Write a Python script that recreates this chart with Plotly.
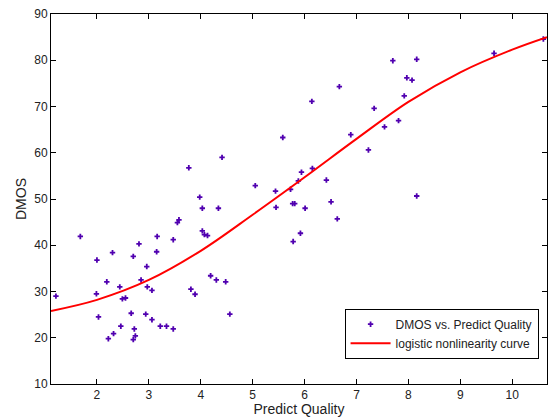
import plotly.graph_objects as go

# Scatter data: predicted quality vs DMOS
pred_quality = [1.21, 1.68, 1.99, 2.00, 2.03, 2.19, 2.30, 2.22, 2.32, 2.44, 2.46, 2.49, 2.55,
                2.66, 2.70, 2.72, 2.74, 2.70, 2.81, 2.85, 2.96, 2.97, 2.94, 3.06, 3.06, 3.15,
                3.16, 3.22, 3.34, 3.47, 3.47, 3.55, 3.58, 3.81, 3.89, 4.03, 4.03, 4.07, 4.13,
                4.19, 4.30, 4.34, 4.48, 4.56, 5.45, 3.77, 3.98, 4.41, 5.05, 5.44,
                10.60, 9.65, 8.16, 7.70, 7.97, 8.07, 7.92, 6.67, 6.14, 7.34, 7.81, 7.54, 6.89,
                7.23, 5.58, 6.15, 5.94, 5.88, 6.42, 5.73, 5.77, 5.81, 6.01, 6.51, 8.16,
                6.63, 5.92, 5.78]
dmos = [29.0, 41.9, 29.5, 36.8, 24.5, 32.1, 38.4, 19.8, 20.9, 31.0, 22.5, 28.4, 28.6,
        25.3, 37.6, 21.9, 20.4, 19.6, 40.3, 32.5, 35.4, 31.0, 25.1, 30.25, 23.9, 38.6,
        41.9, 22.5, 22.5, 41.2, 21.9, 44.9, 45.5, 30.5, 29.4, 48.0, 43.1, 42.3, 42.1,
        33.4, 32.5, 48.0, 32.1, 25.1, 48.2, 56.75, 50.4, 59.0, 52.9, 51.7,
        84.6, 81.5, 80.2, 79.9, 76.2, 75.7, 72.3, 74.3, 71.1, 69.6, 66.95, 65.6, 63.9,
        60.6, 63.3, 56.6, 55.8, 53.9, 54.1, 52.1, 49.0, 49.0, 48.0, 49.4, 50.65,
        45.7, 42.6, 40.8]

# Logistic fit curve
curve_x = [1.115, 2, 3, 4, 5, 6, 7, 8, 9, 10, 10.67]
curve_y = [25.8, 28.2, 32.5, 38.8, 46.6, 54.7, 63.0, 71.0, 77.4, 82.3, 85.0]

x_ticks = [2, 3, 4, 5, 6, 7, 8, 9, 10]
y_ticks = [10, 20, 30, 40, 50, 60, 70, 80, 90]

fig = go.Figure()
fig.add_trace(go.Scatter(
    x=pred_quality, y=dmos, mode="markers", name="DMOS vs. Predict Quality",
    marker=dict(symbol="cross", size=4.5, color="#5000B0", line=dict(width=0)),
))
fig.add_trace(go.Scatter(
    x=curve_x, y=curve_y, mode="lines", name="logistic nonlinearity curve",
    line=dict(color="#FF0000", width=2, shape="spline", smoothing=1.0),
))

axis_common = dict(
    showgrid=False, zeroline=False, showline=True, linecolor="black", linewidth=1,
    mirror="ticks", ticks="inside", ticklen=5, tickcolor="black",
    tickfont=dict(family="Liberation Sans, Arial, sans-serif", size=12, color="#222222"),
)

fig.update_layout(
    width=548, height=417,
    margin=dict(l=51, r=1, t=14, b=33),
    paper_bgcolor="white", plot_bgcolor="white",
    font=dict(family="Liberation Sans, Arial, sans-serif", size=12, color="#222222"),
    xaxis=dict(range=[1.115, 10.67], tickvals=x_ticks,
               title=dict(text="Predict Quality", standoff=4), **axis_common),
    yaxis=dict(range=[10, 90], tickvals=y_ticks,
               title=dict(text="DMOS", standoff=4), **axis_common),
    legend=dict(x=0.983, y=0.136, xanchor="right", yanchor="middle",
                bgcolor="white", bordercolor="black", borderwidth=1,
                font=dict(size=12), tracegroupgap=0, itemwidth=40),
    showlegend=True,
)

fig.write_html("out.html")
